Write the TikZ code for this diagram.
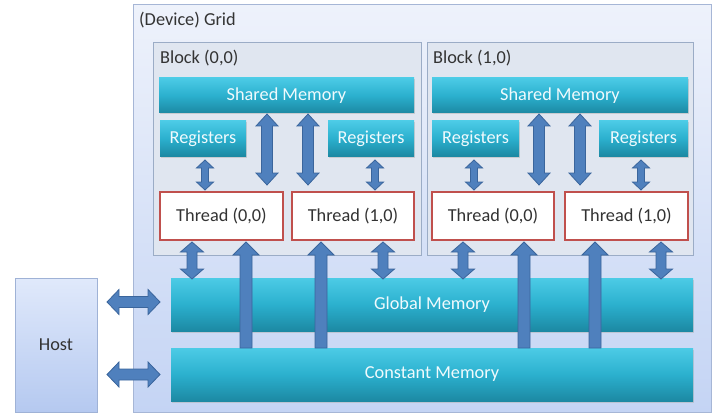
\documentclass[tikz,border=0pt]{standalone}
\usepackage{fontspec}
\setmainfont{Carlito}
\usetikzlibrary{calc,shadows}
\definecolor{gridtop}{HTML}{EEF2FB}
\definecolor{gridbot}{HTML}{C4D4F4}
\definecolor{gridline}{HTML}{A6B6D6}
\definecolor{blockfill}{HTML}{E0E6F0}
\definecolor{blockline}{HTML}{9BACC6}
\definecolor{tealtop}{HTML}{4CCBE6}
\definecolor{tealmid}{HTML}{2BB0CE}
\definecolor{tealbot}{HTML}{1C89A3}
\definecolor{tealtext}{HTML}{F0FAFD}
\definecolor{hosttop}{HTML}{E0E9FB}
\definecolor{hostbot}{HTML}{B5C9F0}
\definecolor{hostline}{HTML}{9FB2D6}
\definecolor{threadline}{HTML}{C0504D}
\definecolor{arrfill}{HTML}{4F80BD}
\definecolor{arrline}{HTML}{3A659C}
\definecolor{labeltext}{HTML}{333333}
\newcommand\diagfont{\fontsize{18.3}{21}\selectfont}
\tikzset{
  box/.style={anchor=north west, inner sep=0pt, outer sep=0pt},
  gridbox/.style={box, draw=gridline, line width=1pt, top color=gridtop, bottom color=gridbot},
  blockbox/.style={box, draw=blockline, line width=0.8pt, fill=blockfill},
  tealbox/.style={box, top color=tealtop, bottom color=tealbot, middle color=tealmid,
    text=tealtext, font=\diagfont,
    general shadow={fill=black!30, shadow xshift=1pt, shadow yshift=-1.5pt, opacity=0.5}},
  threadbox/.style={box, draw=threadline, line width=1.3pt, fill=white, text=labeltext,
    font=\diagfont},
  hostbox/.style={box, draw=hostline, line width=0.8pt, top color=hosttop, bottom color=hostbot,
    text=labeltext, font=\diagfont},
  lbl/.style={anchor=west, inner sep=0pt, text=labeltext, font=\diagfont},
  blockarrow/.style={fill=arrfill, draw=arrline, line width=0.8pt, line join=miter},
  vdouble/.style n args={3}{to path={let \p1=(\tikztostart), \p2=(\tikztotarget) in
      (\x1,\y1) -- (\x1+#2,\y1-#3) -- (\x1+#1,\y1-#3) -- (\x1+#1,\y2+#3) -- (\x1+#2,\y2+#3)
      -- (\x1,\y2) -- (\x1-#2,\y2+#3) -- (\x1-#1,\y2+#3) -- (\x1-#1,\y1-#3) -- (\x1-#2,\y1-#3) -- cycle}},
  vsingle/.style n args={3}{to path={let \p1=(\tikztostart), \p2=(\tikztotarget) in
      (\x1-#1,\y1) -- (\x1-#1,\y2-#3) -- (\x1-#2,\y2-#3) -- (\x1,\y2) -- (\x1+#2,\y2-#3)
      -- (\x1+#1,\y2-#3) -- (\x1+#1,\y1) -- cycle}},
  hdouble/.style n args={3}{to path={let \p1=(\tikztostart), \p2=(\tikztotarget) in
      (\x1,\y1) -- (\x1+#3,\y1+#2) -- (\x1+#3,\y1+#1) -- (\x2-#3,\y1+#1) -- (\x2-#3,\y1+#2)
      -- (\x2,\y1) -- (\x2-#3,\y1-#2) -- (\x2-#3,\y1-#1) -- (\x1+#3,\y1-#1) -- (\x1+#3,\y1-#2) -- cycle}},
}
\begin{document}
\begin{tikzpicture}[x=1pt,y=-1pt]
\useasboundingbox (0,0) rectangle (717,417);
% grid and blocks
\node[gridbox, minimum width=578pt, minimum height=407pt] (grid) at (133,5) {};
\node[lbl] (gridlbl) at (139,20) {(Device) Grid};
\node[blockbox, minimum width=268pt, minimum height=213pt] (blk0) at (153,42) {};
\node[blockbox, minimum width=266pt, minimum height=213pt] (blk1) at (427,42) {};
\node[lbl] (blk0lbl) at (160,58) {Block (0,0)};
\node[lbl] (blk1lbl) at (433,58) {Block (1,0)};
% shared memory
\node[tealbox, minimum width=255pt, minimum height=35pt] (sm0) at (159,78) {Shared Memory};
\node[tealbox, minimum width=256pt, minimum height=35pt] (sm1) at (432,78) {Shared Memory};
% registers
\node[tealbox, minimum width=86pt, minimum height=35pt] (reg0a) at (160,121) {Registers};
\node[tealbox, minimum width=86pt, minimum height=35pt] (reg0b) at (328,121) {Registers};
\node[tealbox, minimum width=87pt, minimum height=35pt] (reg1a) at (432,121) {Registers};
\node[tealbox, minimum width=89pt, minimum height=35pt] (reg1b) at (599,121) {Registers};
% threads
\node[threadbox, minimum width=123pt, minimum height=48pt] (th0a) at (160,192) {Thread (0,0)};
\node[threadbox, minimum width=122pt, minimum height=48pt] (th0b) at (292,192) {Thread (1,0)};
\node[threadbox, minimum width=122pt, minimum height=48pt] (th1a) at (432,192) {Thread (0,0)};
\node[threadbox, minimum width=123pt, minimum height=48pt] (th1b) at (565,192) {Thread (1,0)};
% global / constant memory
\node[tealbox, minimum width=522pt, minimum height=53pt] (gm) at (171,278) {Global Memory};
\node[tealbox, minimum width=522pt, minimum height=53pt] (cm) at (171,348) {Constant Memory};
% host
\node[hostbox, minimum width=82pt, minimum height=134pt] (host) at (15,278) {Host};
% registers <-> threads
\draw[blockarrow] ([xshift=2pt,yshift=-4pt]reg0a.south) to[vdouble={3.5pt}{8.5pt}{8pt}] ([yshift=2pt]th0a.north);
\draw[blockarrow] ([xshift=4pt,yshift=-4pt]reg0b.south) to[vdouble={3.5pt}{8.5pt}{8pt}] ([yshift=2pt]th0b.north);
\draw[blockarrow] ([xshift=-1.5pt,yshift=-4pt]reg1a.south) to[vdouble={3.5pt}{8.5pt}{8pt}] ([yshift=2pt]th1a.north);
\draw[blockarrow] ([xshift=-2.5pt,yshift=-4pt]reg1b.south) to[vdouble={3.5pt}{8.5pt}{8pt}] ([yshift=2pt]th1b.north);
% shared <-> threads
\draw[blockarrow] ([xshift=-19.5pt,yshift=-1pt]sm0.south) to[vdouble={5.5pt}{11pt}{12pt}] ([yshift=7pt]th0a.north);
\draw[blockarrow] ([xshift=21.5pt,yshift=-1pt]sm0.south) to[vdouble={5.5pt}{11pt}{12pt}] ([yshift=7pt]th0b.north);
\draw[blockarrow] ([xshift=-21pt,yshift=-1pt]sm1.south) to[vdouble={5.5pt}{11pt}{12pt}] ([yshift=7pt]th1a.north);
\draw[blockarrow] ([xshift=20pt,yshift=-1pt]sm1.south) to[vdouble={5.5pt}{11pt}{12pt}] ([yshift=7pt]th1b.north);
% threads <-> global memory
\draw[blockarrow] ([xshift=-29.5pt,yshift=-2pt]th0a.south) to[vdouble={5pt}{11.5pt}{10pt}] ([yshift=-1pt]gm.north);
\draw[blockarrow] ([xshift=30pt,yshift=-2pt]th0b.south) to[vdouble={5pt}{11.5pt}{10pt}] ([yshift=-1pt]gm.north);
\draw[blockarrow] ([xshift=-30pt,yshift=-2pt]th1a.south) to[vdouble={5pt}{11.5pt}{10pt}] ([yshift=-1pt]gm.north);
\draw[blockarrow] ([xshift=34.5pt,yshift=-2pt]th1b.south) to[vdouble={5pt}{11.5pt}{10pt}] ([yshift=-1pt]gm.north);
% constant memory -> threads
\draw[blockarrow] ([xshift=-186pt]cm.north) to[vsingle={6pt}{13pt}{13pt}] ([yshift=-2pt]th0a.south);
\draw[blockarrow] ([xshift=-111pt]cm.north) to[vsingle={6pt}{13pt}{13pt}] ([yshift=-2pt]th0b.south);
\draw[blockarrow] ([xshift=92pt]cm.north) to[vsingle={6pt}{13pt}{13pt}] ([yshift=-2pt]th1a.south);
\draw[blockarrow] ([xshift=163pt]cm.north) to[vsingle={6pt}{13pt}{13pt}] ([yshift=-2pt]th1b.south);
% host <-> memories
\draw[blockarrow] ($(host.east |- gm.west)+(10,-2.5)$) to[hdouble={5.5pt}{12.5pt}{12pt}] ($(gm.west)+(-11,0)$);
\draw[blockarrow] ($(host.east |- cm.west)+(10,0)$) to[hdouble={5.5pt}{12.5pt}{12pt}] ($(cm.west)+(-11,0)$);
\end{tikzpicture}
\end{document}
